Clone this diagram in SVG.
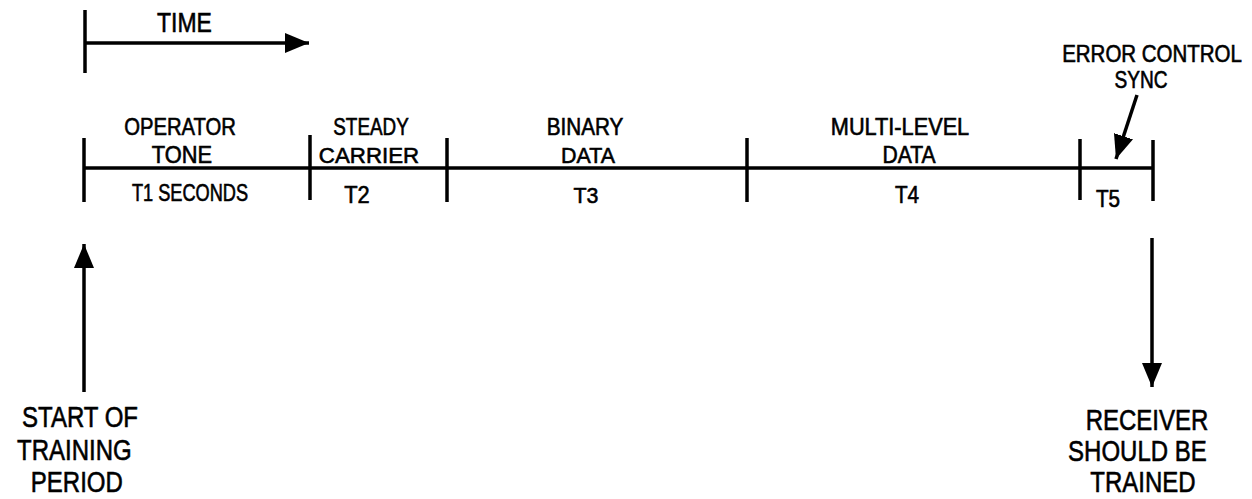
<svg xmlns="http://www.w3.org/2000/svg" width="1252" height="499" viewBox="0 0 1252 499">
<style>
  text { font-family: "Liberation Sans", Arial, sans-serif; fill: #000; stroke: #000; stroke-width: 0.6; text-anchor: middle; }
  .lbl { font-size: 23px; }
  .big { font-size: 30px; }
  .time { font-size: 28px; }
  .ln { stroke: #000; stroke-width: 3.5; fill: none; stroke-linecap: butt; }
  .tick { stroke: #000; stroke-width: 3.5; fill: none; }
</style>
<defs>
  <marker id="ah" markerUnits="userSpaceOnUse" markerWidth="26" markerHeight="20" refX="24" refY="10" orient="auto">
    <path d="M0,0 L24,10 L0,20 Z" fill="#000"/>
  </marker>
</defs>
<rect width="1252" height="499" fill="#fff"/>

<g id="time-axis">
  <line class="tick" x1="85" y1="10" x2="85" y2="73"/>
  <text class="time" transform="translate(184.5,32) scale(0.82,1)">TIME</text>
</g>

<g id="timeline">
  <line class="ln" x1="84" y1="168" x2="1154" y2="168"/>
  <line class="tick" x1="84" y1="138" x2="84" y2="202"/>
  <line class="tick" x1="310" y1="135" x2="310" y2="200"/>
  <line class="tick" x1="447" y1="138" x2="447" y2="202"/>
  <line class="tick" x1="747" y1="138" x2="747" y2="202"/>
  <line class="tick" x1="1080" y1="139" x2="1080" y2="200"/>
  <line class="tick" x1="1153" y1="140" x2="1153" y2="201"/>
</g>

<g id="seg-operator-tone">
  <text class="lbl" transform="translate(180,135) scale(0.88,1)">OPERATOR</text>
  <text class="lbl" transform="translate(182,163) scale(0.95,1)">TONE</text>
  <text class="lbl" transform="translate(190,201) scale(0.79,1)">T1 SECONDS</text>
</g>

<g id="seg-steady-carrier">
  <text class="lbl" transform="translate(371,135) scale(0.82,1)">STEADY</text>
  <text class="lbl" transform="translate(369,163) scale(0.97,1)">CARRIER</text>
  <text class="lbl" transform="translate(357,203) scale(0.95,1)">T2</text>
</g>

<g id="seg-binary-data">
  <text class="lbl" transform="translate(585,135) scale(0.9,1)">BINARY</text>
  <text class="lbl" transform="translate(588,163) scale(0.93,1)">DATA</text>
  <text class="lbl" transform="translate(586,203) scale(0.93,1)">T3</text>
</g>

<g id="seg-multilevel-data">
  <text class="lbl" transform="translate(900,135) scale(0.945,1)">MULTI-LEVEL</text>
  <text class="lbl" transform="translate(909,163) scale(0.92,1)">DATA</text>
  <text class="lbl" transform="translate(907,203) scale(0.9,1)">T4</text>
</g>

<g id="seg-t5">
  <text class="lbl" transform="translate(1108,207) scale(0.9,1)">T5</text>
</g>

<g id="error-control-sync">
  <text class="lbl" transform="translate(1152,62) scale(0.89,1)">ERROR CONTROL</text>
  <text class="lbl" transform="translate(1141,88) scale(0.83,1)">SYNC</text>
</g>

<g id="start-of-training">
  <text class="big" transform="translate(80,0) scale(0.8,1)"><tspan x="0" y="427">START OF</tspan><tspan x="-7" y="460">TRAINING</tspan><tspan x="-4" y="492">PERIOD</tspan></text>
</g>

<g id="receiver-trained">
  <text class="big" transform="translate(1143,0) scale(0.8,1)"><tspan x="5" y="430">RECEIVER</tspan><tspan x="-7" y="461">SHOULD BE</tspan><tspan x="0" y="492">TRAINED</tspan></text>
</g>

<g id="connectors">
  <line class="ln" x1="85" y1="43" x2="309" y2="43" marker-end="url(#ah)"/>
  <line class="ln" x1="1137" y1="95" x2="1116" y2="159" marker-end="url(#ah)"/>
  <line class="ln" x1="84" y1="392" x2="84" y2="244" marker-end="url(#ah)"/>
  <line class="ln" x1="1152" y1="238" x2="1152" y2="387" marker-end="url(#ah)"/>
</g>
</svg>
